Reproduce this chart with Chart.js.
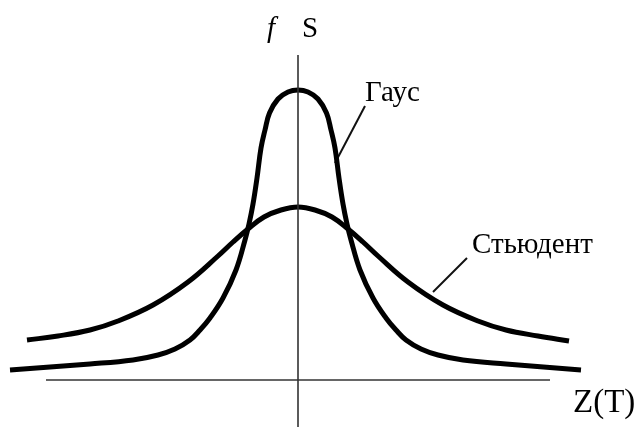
<!DOCTYPE html>
<html>
<head>
<meta charset="utf-8">
<script src="https://cdn.jsdelivr.net/npm/chart.js@4/dist/chart.umd.min.js"></script>
<style>
  html, body { margin: 0; padding: 0; background: #fff; }
  canvas { display: block; }
</style>
</head>
<body>
<canvas id="chart" width="634" height="427"></canvas>
<script>
// Gaussian (narrow, tall) density curve: Z values and f values
const gaussZ = [-5.76, -4.16, -3.30, -2.80, -2.46, -2.16, -1.96, -1.76, -1.50, -1.24, -1.06, -0.98, -0.90, -0.82, -0.74, -0.66, -0.57, -0.40, -0.20, 0.00,
                0.20, 0.40, 0.57, 0.66, 0.74, 0.82, 0.90, 0.98, 1.06, 1.24, 1.50, 1.76, 1.96, 2.16, 2.46, 2.80, 3.30, 4.16, 5.66];
const gaussF = [0.10, 0.16, 0.20, 0.25, 0.31, 0.40, 0.50, 0.62, 0.82, 1.10, 1.40, 1.56, 1.76, 2.02, 2.32, 2.50, 2.67, 2.81, 2.88, 2.90,
                2.88, 2.81, 2.67, 2.50, 2.32, 2.02, 1.76, 1.56, 1.40, 1.10, 0.82, 0.62, 0.50, 0.40, 0.31, 0.25, 0.20, 0.16, 0.10];

// Student (wide, low) density curve
const studentZ = [-5.42, -4.80, -4.16, -3.60, -2.90, -2.20, -1.60, -1.30, -1.00, -0.68, -0.34, 0.00, 0.34, 0.68, 1.00, 1.30, 1.60, 2.20, 2.90, 3.60, 4.16, 4.80, 5.42];
const studentF = [0.40, 0.44, 0.50, 0.59, 0.75, 0.98, 1.24, 1.38, 1.51, 1.63, 1.70, 1.73, 1.70, 1.63, 1.51, 1.38, 1.24, 0.98, 0.75, 0.59, 0.50, 0.44, 0.39];

// Axis lines (Z axis horizontal, f/S axis vertical)
const zAxisZ = [-5.04, 5.04];
const zAxisF = [0, 0];
const fAxisZ = [0, 0];
const fAxisF = [3.25, -0.47];

// Leader lines from the curve names to the curves
const gaussLeaderZ = [1.34, 0.74];
const gaussLeaderF = [2.74, 2.17];
const studentLeaderZ = [3.38, 2.70];
const studentLeaderF = [1.22, 0.88];

// Text labels
const labelTexts = ['Гаус', 'Стьюдент', 'S', 'Z(T)'];
const axisSymbolF = 'f';

const pts = (xs, ys) => xs.map((x, i) => ({ x, y: ys[i] }));

const curve = (xs, ys) => ({
  data: pts(xs, ys),
  borderColor: '#000',
  borderWidth: 5,
  borderCapStyle: 'butt',
  borderJoinStyle: 'round',
  cubicInterpolationMode: 'default',
  tension: 0.4,
  pointRadius: 0,
  fill: false
});

const thin = (xs, ys, w, color) => ({
  data: pts(xs, ys),
  borderColor: color,
  borderWidth: w,
  pointRadius: 0,
  tension: 0,
  fill: false
});

const textPlugin = {
  id: 'curveText',
  afterDatasetsDraw(chart) {
    const { ctx, scales: { x, y } } = chart;
    ctx.save();
    ctx.fillStyle = '#000';
    ctx.textBaseline = 'alphabetic';
    ctx.textAlign = 'left';
    const put = (txt, zx, fy, font) => {
      ctx.font = font;
      ctx.fillText(txt, x.getPixelForValue(zx), y.getPixelForValue(fy));
    };
    put(labelTexts[0], 1.34, 2.79, '29px "Liberation Serif"');
    put(labelTexts[1], 3.48, 1.27, '29px "Liberation Serif"');
    put(axisSymbolF, -0.62, 3.43, 'italic 29px "Liberation Serif"');
    put(labelTexts[2], 0.08, 3.43, '29px "Liberation Serif"');
    put(labelTexts[3], 5.50, -0.32, '33px "Liberation Serif"');
    ctx.restore();
  }
};

new Chart(document.getElementById('chart'), {
  type: 'line',
  data: {
    datasets: [
      thin(zAxisZ, zAxisF, 1.6, '#333'),
      thin(fAxisZ, fAxisF, 1.6, '#333'),
      curve(gaussZ, gaussF),
      curve(studentZ, studentF),
      thin(gaussLeaderZ, gaussLeaderF, 2, '#111'),
      thin(studentLeaderZ, studentLeaderF, 2, '#111')
    ]
  },
  options: {
    responsive: false,
    devicePixelRatio: 1,
    animation: false,
    layout: { padding: 0 },
    scales: {
      x: { type: 'linear', min: -5.96, max: 6.72, display: false },
      y: { type: 'linear', min: -0.47, max: 3.80, display: false }
    },
    plugins: {
      legend: { display: false },
      tooltip: { enabled: false }
    },
    datasets: { line: { clip: false } }
  },
  plugins: [textPlugin]
});
</script>
</body>
</html>
